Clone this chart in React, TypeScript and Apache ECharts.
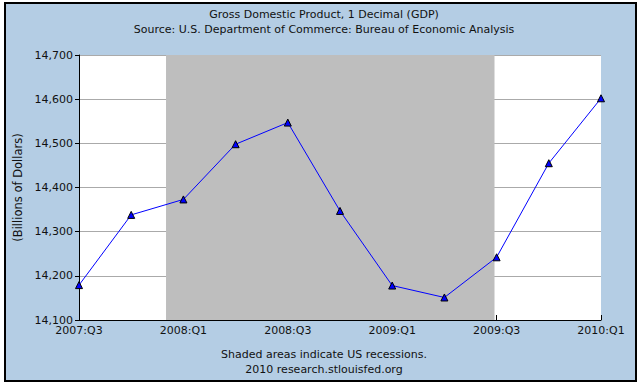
import React, { useEffect, useRef } from "react";
import * as echarts from "echarts";

const quarters = [
  "2007:Q3", "2007:Q4", "2008:Q1", "2008:Q2", "2008:Q3", "2008:Q4",
  "2009:Q1", "2009:Q2", "2009:Q3", "2009:Q4", "2010:Q1",
];
const gdp = [14179, 14338, 14373, 14498, 14547, 14347, 14178, 14151, 14242, 14455, 14602];
const recessionStart = 1.667; // Dec 2007, in quarters from 2007:Q3
const recessionEnd = 7.96; // end of Jun 2009
const yMin = 14100;
const yMax = 14700;
const yStep = 100;

const titleText = "Gross Domestic Product, 1 Decimal (GDP)";
const sourceText = "Source: U.S. Department of Commerce: Bureau of Economic Analysis";
const noteText = "Shaded areas indicate US recessions.";
const creditText = "2010 research.stlouisfed.org";
const yName = "(Billions of Dollars)";

const FONT = "DejaVu Sans";
const TXT = "#111";

function addCommas(v: number): string {
  return String(v).replace(/\B(?=(\d{3})+(?!\d))/g, ",");
}

export default function App() {
  const ref = useRef<HTMLDivElement>(null);
  useEffect(() => {
    document.body.style.margin = "0";
    if (!ref.current) return;
    const chart = echarts.init(ref.current, undefined, { renderer: "svg" });
    const points = gdp.map((v, i) => [i, v]);
    chart.setOption({
      animation: false,
      backgroundColor: "#ffffff",
      textStyle: { fontFamily: FONT },
      graphic: {
        elements: [
          {
            type: "rect",
            z: -100,
            shape: { x: 5, y: 3, width: 631, height: 378 },
            style: { fill: "#b4cde4", stroke: "#000", lineWidth: 2 },
          },
          {
            type: "text", x: 324, y: 14,
            style: { text: titleText, fill: TXT, font: `11px "${FONT}"`, textAlign: "center", textVerticalAlign: "middle" },
          },
          {
            type: "text", x: 324, y: 29,
            style: { text: sourceText, fill: TXT, font: `11px "${FONT}"`, textAlign: "center", textVerticalAlign: "middle" },
          },
          {
            type: "text", x: 324, y: 354,
            style: { text: noteText, fill: TXT, font: `11px "${FONT}"`, textAlign: "center", textVerticalAlign: "middle" },
          },
          {
            type: "text", x: 324, y: 369,
            style: { text: creditText, fill: TXT, font: `11px "${FONT}"`, textAlign: "center", textVerticalAlign: "middle" },
          },
        ],
      },
      grid: {
        left: 79, top: 55, width: 522, height: 265,
        show: true, backgroundColor: "#ffffff", borderWidth: 0,
      },
      xAxis: {
        type: "value",
        min: 0, max: quarters.length - 1, interval: 2,
        axisLine: { show: true, lineStyle: { color: "#000", width: 1 } },
        axisTick: { show: true, inside: true, length: 5, lineStyle: { color: "#000" } },
        axisLabel: {
          formatter: (v: number) => quarters[v] ?? "",
          fontSize: 11, color: TXT, fontFamily: FONT, margin: 5,
        },
        splitLine: { show: false },
      },
      yAxis: {
        type: "value",
        min: yMin, max: yMax, interval: yStep,
        axisLine: { show: true, lineStyle: { color: "#000", width: 1 } },
        axisTick: { show: true, inside: false, length: 4, lineStyle: { color: "#000" } },
        axisLabel: {
          formatter: (v: number) => addCommas(v),
          fontSize: 11, color: TXT, fontFamily: FONT, margin: 6,
        },
        splitLine: { show: true, lineStyle: { color: "#aaaaaa", width: 1 } },
        name: yName,
        nameLocation: "middle",
        nameGap: 55,
        nameTextStyle: { fontSize: 11.5, color: TXT, fontFamily: FONT },
      },
      series: [
        {
          type: "line",
          z: 1,
          data: points,
          showSymbol: false,
          symbol: "none",
          silent: true,
          lineStyle: { opacity: 0 },
          markArea: {
            silent: true,
            itemStyle: { color: "#bebebe" },
            data: [[{ xAxis: recessionStart }, { xAxis: recessionEnd }]],
          },
        },
        {
          type: "line",
          z: 3,
          data: points,
          symbol: "triangle",
          symbolSize: 7,
          lineStyle: { color: "#0000ff", width: 1 },
          itemStyle: { color: "#0000ff", borderColor: "#000", borderWidth: 1 },
        },
      ],
    });
    return () => chart.dispose();
  }, []);
  return <div ref={ref} style={{ width: 641, height: 390 }} />;
}
